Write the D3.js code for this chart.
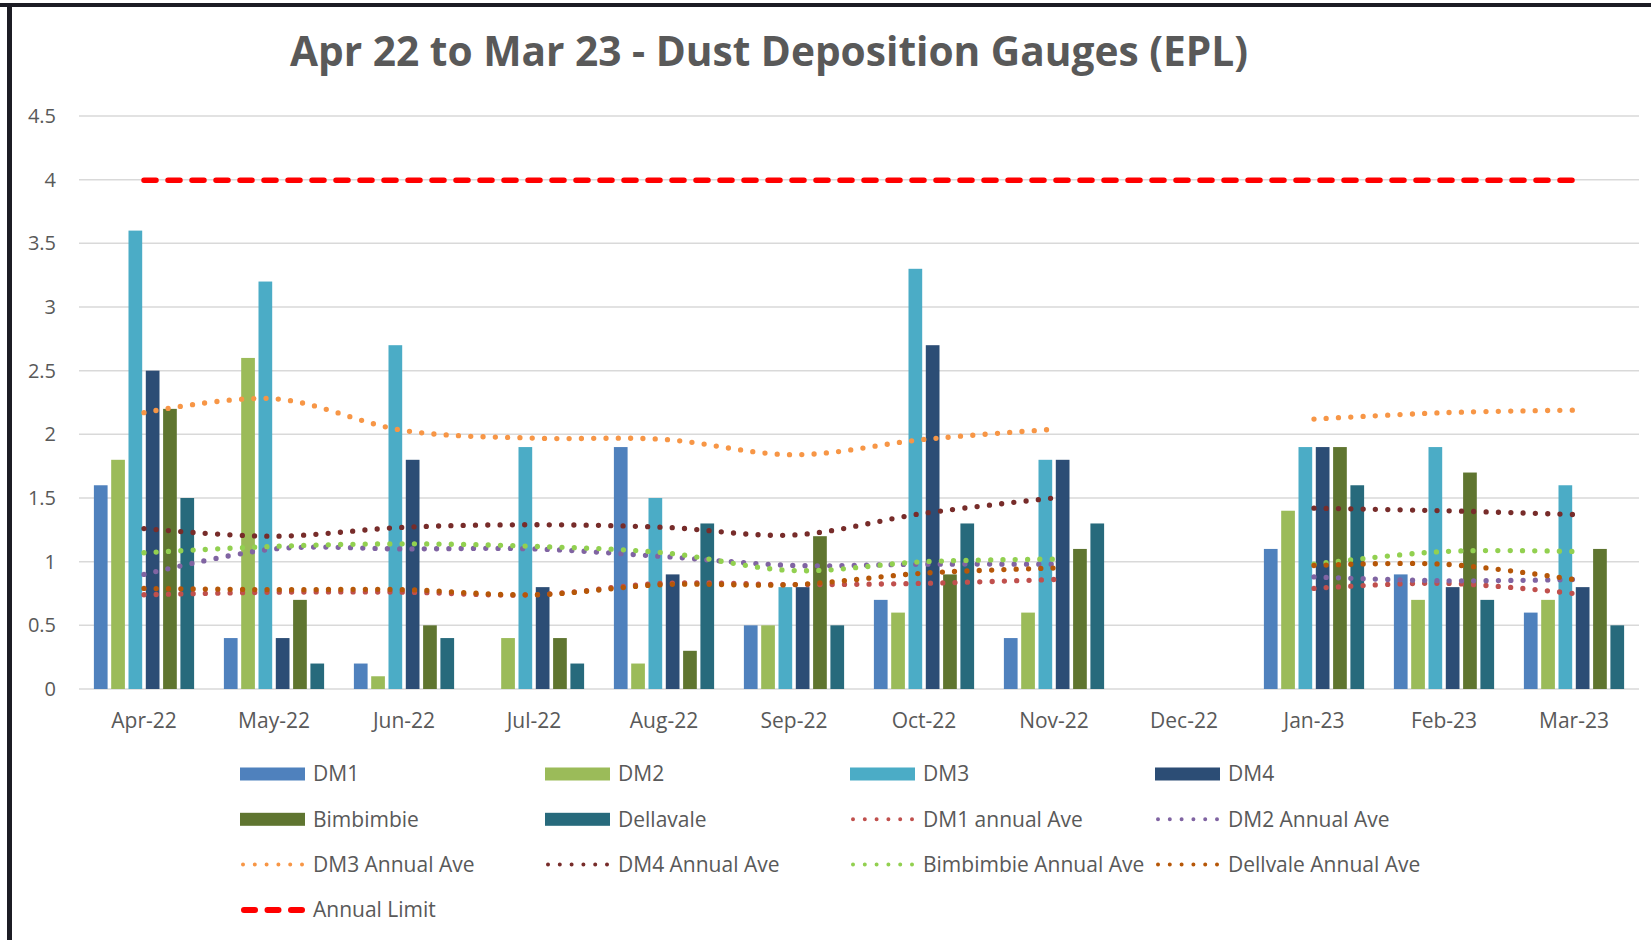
<!DOCTYPE html>
<html>
<head>
<meta charset="utf-8">
<script src="https://cdn.jsdelivr.net/npm/d3@7"></script>
<style>
  body { margin: 0; background: #fff; }
  text { font-family: "Open Sans", "Liberation Sans", sans-serif; fill: #595959; }
</style>
</head>
<body>
<div id="vis"></div>
<script>
// months on the x axis
var months = ["Apr-22","May-22","Jun-22","Jul-22","Aug-22","Sep-22","Oct-22","Nov-22","Dec-22","Jan-23","Feb-23","Mar-23"];

// monthly gauge readings (null = no reading)
var dm1       = [1.6, 0.4, 0.2, null, 1.9, 0.5, 0.7, 0.4, null, 1.1, 0.9, 0.6];
var dm2       = [1.8, 2.6, 0.1, 0.4, 0.2, 0.5, 0.6, 0.6, null, 1.4, 0.7, 0.7];
var dm3       = [3.6, 3.2, 2.7, 1.9, 1.5, 0.8, 3.3, 1.8, null, 1.9, 1.9, 1.6];
var dm4       = [2.5, 0.4, 1.8, 0.8, 0.9, 0.8, 2.7, 1.8, null, 1.9, 0.8, 0.8];
var bimbimbie = [2.2, 0.7, 0.5, 0.4, 0.3, 1.2, 0.9, 1.1, null, 1.9, 1.7, 1.1];
var dellavale = [1.5, 0.2, 0.4, 0.2, 1.3, 0.5, 1.3, 1.3, null, 1.6, 0.7, 0.5];

// annual averages
var dm1Ave  = [0.74, 0.76, 0.76, 0.74, 0.83, 0.82, 0.83, 0.86, null, 0.79, 0.83, 0.75];
var dm2Ave  = [0.90, 1.10, 1.10, 1.10, 1.04, 0.97, 0.98, 0.98, null, 0.88, 0.85, 0.86];
var dm3Ave  = [2.17, 2.28, 2.03, 1.97, 1.96, 1.84, 1.96, 2.04, null, 2.12, 2.17, 2.19];
var dm4Ave  = [1.26, 1.20, 1.27, 1.29, 1.27, 1.21, 1.38, 1.50, null, 1.42, 1.40, 1.37];
var bimAve  = [1.07, 1.12, 1.14, 1.12, 1.07, 0.93, 1.00, 1.02, null, 0.98, 1.08, 1.08];
var dellAve = [0.79, 0.78, 0.78, 0.74, 0.82, 0.82, 0.91, 0.95, null, 0.97, 0.98, 0.86];
var limit   = [4, 4, 4, 4, 4, 4, 4, 4, 4, 4, 4, 4];

var yTicks = [0, 0.5, 1, 1.5, 2, 2.5, 3, 3.5, 4, 4.5];

var barSeries = [
  {name: "DM1", values: dm1, color: "#4f81bd"},
  {name: "DM2", values: dm2, color: "#9bbb59"},
  {name: "DM3", values: dm3, color: "#4bacc6"},
  {name: "DM4", values: dm4, color: "#2c4d75"},
  {name: "Bimbimbie", values: bimbimbie, color: "#5f7530"},
  {name: "Dellavale", values: dellavale, color: "#276a7c"}
];
var lineSeries = [
  {name: "DM1 annual Ave", values: dm1Ave, color: "#c0504d"},
  {name: "DM2 Annual Ave", values: dm2Ave, color: "#8064a2"},
  {name: "DM3 Annual Ave", values: dm3Ave, color: "#f79646"},
  {name: "DM4 Annual Ave", values: dm4Ave, color: "#772c2a"},
  {name: "Bimbimbie Annual Ave", values: bimAve, color: "#92d050"},
  {name: "Dellvale Annual Ave", values: dellAve, color: "#b65708"}
];
var limitSeries = {name: "Annual Limit", values: limit, color: "#ff0000"};

var width = 1651, height = 940;
var svg = d3.select("#vis").append("svg")
  .attr("width", width).attr("height", height);

// frame (top and left edges only)
svg.append("rect").attr("x", 0).attr("y", 3).attr("width", width).attr("height", 4).attr("fill", "#1c1c24");
svg.append("rect").attr("x", 7).attr("y", 3).attr("width", 5).attr("height", height).attr("fill", "#1c1c24");

svg.append("text")
  .attr("x", 769).attr("y", 66)
  .attr("text-anchor", "middle")
  .attr("textLength", 958).attr("lengthAdjust", "spacingAndGlyphs")
  .style("font-size", "42px").style("font-weight", "bold")
  .text("Apr 22 to Mar 23 - Dust Deposition Gauges (EPL)");

var x0 = d3.scaleBand().domain(months).range([79, 1639])
  .paddingInner(0.229).paddingOuter(0.1145);
var x1 = d3.scaleBand().domain(barSeries.map(function(d){ return d.name; }))
  .range([0, x0.bandwidth()]).paddingInner(0.208);
var y = d3.scaleLinear().domain([0, 4.5]).range([689, 116]);

// gridlines
svg.append("g").selectAll("line").data(yTicks).enter().append("line")
  .attr("x1", 79).attr("x2", 1639)
  .attr("y1", function(d){ return y(d); }).attr("y2", function(d){ return y(d); })
  .attr("stroke", "#d9d9d9").attr("stroke-width", 1.5);

// y labels
svg.append("g").selectAll("text").data(yTicks).enter().append("text")
  .attr("x", 56).attr("y", function(d){ return y(d); })
  .attr("dy", "0.35em").attr("text-anchor", "end")
  .style("font-size", "20px")
  .text(function(d){ return d; });

// x labels
var xAxis = svg.append("g").attr("transform", "translate(0,689)")
  .call(d3.axisBottom(x0).tickSize(0).tickPadding(24));
xAxis.select(".domain").remove();
xAxis.selectAll("text").style("font-size", "21px")
  .style("font-family", "'Open Sans', sans-serif").attr("fill", "#595959");

// bars
var groups = svg.append("g").selectAll("g").data(barSeries).enter().append("g")
  .attr("fill", function(d){ return d.color; });
groups.selectAll("rect")
  .data(function(s){ return s.values.map(function(v, i){ return {name: s.name, m: months[i], v: v}; }).filter(function(d){ return d.v != null; }); })
  .enter().append("rect")
  .attr("x", function(d){ return x0(d.m) + x1(d.name); })
  .attr("width", x1.bandwidth())
  .attr("y", function(d){ return y(d.v); })
  .attr("height", function(d){ return y(0) - y(d.v); });

var cx = function(i){ return x0(months[i]) + x0.bandwidth() / 2; };
var line = d3.line()
  .defined(function(d){ return d != null; })
  .x(function(d, i){ return cx(i); })
  .y(function(d){ return y(d); })
  .curve(d3.curveCatmullRom);

svg.append("g").selectAll("path").data(lineSeries).enter().append("path")
  .attr("d", function(d){ return line(d.values); })
  .attr("fill", "none")
  .attr("stroke", function(d){ return d.color; })
  .attr("stroke-width", 5.3)
  .attr("stroke-linecap", "round")
  .attr("stroke-dasharray", "0 12.3");

svg.append("path")
  .attr("d", d3.line().x(function(d, i){ return cx(i); }).y(function(d){ return y(d); })(limitSeries.values))
  .attr("fill", "none")
  .attr("stroke", limitSeries.color)
  .attr("stroke-width", 5.5)
  .attr("stroke-linecap", "round")
  .attr("stroke-dasharray", "12 12")
  .attr("transform", "translate(0,0.5)");

// legend
var legendItems = barSeries.map(function(d){ return {name: d.name, color: d.color, type: "bar"}; })
  .concat(lineSeries.map(function(d){ return {name: d.name, color: d.color, type: "dot"}; }))
  .concat([{name: limitSeries.name, color: limitSeries.color, type: "dash"}]);

var legend = svg.append("g").selectAll("g").data(legendItems).enter().append("g")
  .attr("transform", function(d, i){
    return "translate(" + (240 + (i % 4) * 305) + "," + (774 + Math.floor(i / 4) * 45.3) + ")";
  });
legend.each(function(d){
  var g = d3.select(this);
  if (d.type == "bar") {
    g.append("rect").attr("x", 0).attr("y", -6.5).attr("width", 65).attr("height", 13).attr("fill", d.color);
  } else if (d.type == "dot") {
    g.append("line").attr("x1", 3).attr("x2", 64).attr("y1", 0).attr("y2", 0)
      .attr("stroke", d.color).attr("stroke-width", 4)
      .attr("stroke-linecap", "round").attr("stroke-dasharray", "0 11.8");
  } else {
    g.append("line").attr("x1", 4).attr("x2", 62).attr("y1", 0).attr("y2", 0)
      .attr("stroke", d.color).attr("stroke-width", 6)
      .attr("stroke-linecap", "round").attr("stroke-dasharray", "11 12.5");
  }
  g.append("text").attr("x", 73).attr("y", 0).attr("dy", "0.35em")
    .style("font-size", "21px").text(d.name);
});
</script>
</body>
</html>
